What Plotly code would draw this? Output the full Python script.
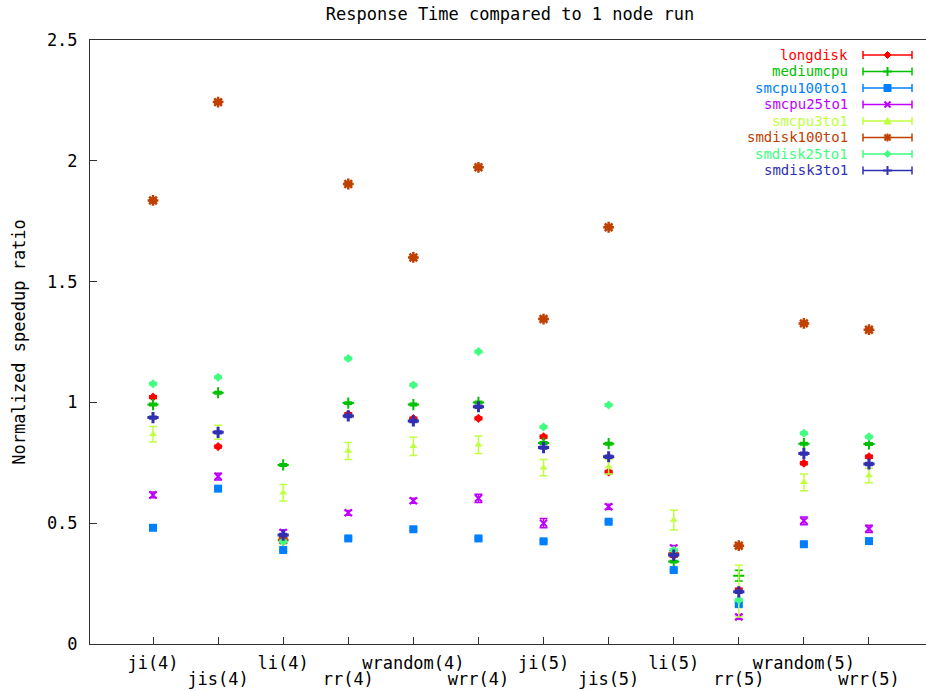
import plotly.graph_objects as go

# ---- data -------------------------------------------------------------
categories = ["ji(4)", "jis(4)", "li(4)", "rr(4)", "wrandom(4)", "wrr(4)",
              "ji(5)", "jis(5)", "li(5)", "rr(5)", "wrandom(5)", "wrr(5)"]

longdisk = [1.022, 0.817, 0.437, 0.951, 0.933, 0.934, 0.858, 0.712, 0.365, 0.223, 0.748, 0.775]
longdisk_err = [0.006, 0.006, 0.006, 0.006, 0.006, 0.006, 0.006, 0.006, 0.006, 0.008, 0.006, 0.006]

mediumcpu = [0.991, 1.040, 0.741, 0.997, 0.991, 1.000, 0.832, 0.829, 0.341, 0.283, 0.829, 0.828]
mediumcpu_err = [0.005, 0.005, 0.005, 0.005, 0.005, 0.005, 0.005, 0.005, 0.005, 0.022, 0.005, 0.005]

smcpu100to1 = [0.481, 0.643, 0.389, 0.437, 0.475, 0.437, 0.425, 0.506, 0.306, 0.165, 0.413, 0.426]
smcpu100to1_err = [0.005, 0.005, 0.005, 0.005, 0.005, 0.005, 0.005, 0.005, 0.005, 0.008, 0.005, 0.005]

smcpu25to1 = [0.617, 0.693, 0.462, 0.543, 0.593, 0.603, 0.500, 0.568, 0.398, 0.112, 0.510, 0.477]
smcpu25to1_err = [0.012, 0.014, 0.010, 0.010, 0.010, 0.017, 0.019, 0.010, 0.010, 0.010, 0.016, 0.015]

smcpu3to1 = [0.868, 0.876, 0.626, 0.799, 0.818, 0.825, 0.730, 0.734, 0.513, 0.219, 0.669, 0.697]
smcpu3to1_err = [0.032, 0.029, 0.034, 0.035, 0.038, 0.036, 0.034, 0.030, 0.041, 0.107, 0.035, 0.030]

smdisk100to1 = [1.836, 2.243, 0.430, 1.904, 1.600, 1.973, 1.345, 1.725, 0.375, 0.407, 1.327, 1.301]
smdisk100to1_err = [0.005] * 12

smdisk25to1 = [1.077, 1.104, 0.424, 1.182, 1.072, 1.210, 0.898, 0.989, 0.389, 0.182, 0.872, 0.858]
smdisk25to1_err = [0.005] * 12

smdisk3to1 = [0.937, 0.876, 0.451, 0.944, 0.923, 0.982, 0.813, 0.775, 0.368, 0.216, 0.788, 0.745]
smdisk3to1_err = [0.006] * 12

y_ticks = [0, 0.5, 1, 1.5, 2, 2.5]
y_tick_labels = ["0", "0.5", "1", "1.5", "2", "2.5"]

# ---- styling ------------------------------------------------------------
FONT = "DejaVu Sans Mono"
FS = 17
KEY_FS = 14
W, H = 926, 691
ML, MR, MT, MB = 90, 0, 40, 47
PW, PH = W - ML - MR, H - MT - MB

series = [
    ("longdisk", longdisk, longdisk_err, "#ff0000", dict(symbol="diamond", size=7)),
    ("mediumcpu", mediumcpu, mediumcpu_err, "#00c000",
     dict(symbol="cross-thin-open", size=8, line=dict(width=2))),
    ("smcpu100to1", smcpu100to1, smcpu100to1_err, "#0080ff", dict(symbol="square", size=8)),
    ("smcpu25to1", smcpu25to1, smcpu25to1_err, "#c000ff",
     dict(symbol="x-thin-open", size=7, line=dict(width=2))),
    ("smcpu3to1", smcpu3to1, smcpu3to1_err, "#c0ff40", dict(symbol="triangle-up", size=7)),
    ("smdisk100to1", smdisk100to1, smdisk100to1_err, "#c04000",
     dict(symbol="asterisk-open", size=9, line=dict(width=2.5))),
    ("smdisk25to1", smdisk25to1, smdisk25to1_err, "#40ff80", dict(symbol="diamond", size=7)),
    ("smdisk3to1", smdisk3to1, smdisk3to1_err, "#3030b0",
     dict(symbol="cross-thin-open", size=8, line=dict(width=3))),
]

xs = list(range(len(categories)))

fig = go.Figure()
for name, vals, errs, color, marker in series:
    mk = dict(marker)
    mk["color"] = color
    if "line" in mk:
        mk["line"] = dict(mk["line"], color=color)
    fig.add_trace(go.Scatter(
        x=xs, y=vals, mode="markers", name=name, marker=mk,
        error_y=dict(type="data", array=errs, visible=True, color=color,
                     thickness=1.5, width=4),
        showlegend=False, cliponaxis=False,
    ))

# visible x window (one category step of padding on the left)
x_left, x_right = -0.968, 11.876

even_idx = [i for i in xs if i % 2 == 0]
odd_idx = [i for i in xs if i % 2 == 1]

axis_line = dict(showline=True, linecolor="#303030", linewidth=1)
fig.update_layout(
    width=W, height=H,
    margin=dict(l=ML, r=MR, t=MT, b=MB, autoexpand=False),
    paper_bgcolor="white", plot_bgcolor="white",
    font=dict(family=FONT, size=FS, color="black"),
    title=dict(text="Response Time compared to 1 node run",
               x=(510 - ML) / PW, xref="paper", xanchor="center",
               y=1 - 14 / H, yref="container", yanchor="middle",
               font=dict(family=FONT, size=FS, color="black")),
    xaxis=dict(range=[x_left, x_right], tickvals=even_idx,
               ticktext=[categories[i] for i in even_idx],
               ticks="inside", ticklen=7, tickcolor="#303030",
               showgrid=False, zeroline=False, mirror=True,
               ticklabelstandoff=4, **axis_line),
    xaxis2=dict(range=[x_left, x_right], overlaying="x", side="bottom",
                anchor="y", tickvals=odd_idx,
                ticktext=[categories[i] for i in odd_idx],
                ticks="inside", ticklen=7, tickcolor="#303030",
                showgrid=False, zeroline=False, showline=False,
                ticklabelstandoff=23),
    yaxis=dict(range=[0, 2.5], tickvals=y_ticks, ticktext=y_tick_labels,
               ticks="inside", ticklen=7, tickcolor="#303030",
               showgrid=False, zeroline=False, ticklabelstandoff=8,
               title=dict(text="Normalized speedup ratio", standoff=16,
                          font=dict(family=FONT, size=FS)),
               **axis_line),
)

# keep the second category axis alive with an invisible copy of one series
fig.add_trace(go.Scatter(x=xs, y=smcpu3to1, xaxis="x2", mode="markers",
                         marker=dict(opacity=0), showlegend=False,
                         hoverinfo="skip"))

# ---- key (text on the left, sample bar with caps on the right) ----------
def px_to_paper_x(px):
    return (px - ML) / PW


def px_to_paper_y(py):
    return (H - MB - py) / PH


def marker_shapes(sym, color, ax, ay):
    base = dict(xref="paper", yref="paper", xsizemode="pixel", ysizemode="pixel",
                xanchor=ax, yanchor=ay)
    out = []
    if sym == "diamond":
        out.append(dict(base, type="path", path="M -3.5,0 L 0,3.5 L 3.5,0 L 0,-3.5 Z",
                        fillcolor=color, line=dict(color=color, width=1)))
    elif sym == "square":
        out.append(dict(base, type="rect", x0=-3.5, x1=3.5, y0=-3.5, y1=3.5,
                        fillcolor=color, line=dict(color=color, width=1)))
    elif sym == "triangle-up":
        out.append(dict(base, type="path", path="M -3.5,-3 L 3.5,-3 L 0,3.5 Z",
                        fillcolor=color, line=dict(color=color, width=1)))
    elif sym == "cross-thin-open":
        for x0, y0, x1, y1 in [(-4.5, 0, 4.5, 0), (0, -4.5, 0, 4.5)]:
            out.append(dict(base, type="line", x0=x0, y0=y0, x1=x1, y1=y1,
                            line=dict(color=color, width=2)))
    elif sym == "x-thin-open":
        for x0, y0, x1, y1 in [(-3, -3, 3, 3), (-3, 3, 3, -3)]:
            out.append(dict(base, type="line", x0=x0, y0=y0, x1=x1, y1=y1,
                            line=dict(color=color, width=2)))
    elif sym == "asterisk-open":
        for x0, y0, x1, y1 in [(-4, 0, 4, 0), (0, -4, 0, 4), (-3, -3, 3, 3), (-3, 3, 3, -3)]:
            out.append(dict(base, type="line", x0=x0, y0=y0, x1=x1, y1=y1,
                            line=dict(color=color, width=2)))
    return out


key_text_right = 849
key_x0, key_x1 = 863, 912
key_mid = (key_x0 + key_x1) / 2
row_top, row_step = 55, 16.5

shapes = []
annotations = []
for k, (name, _, _, color, marker) in enumerate(series):
    ry = row_top + row_step * k
    pyy = px_to_paper_y(ry)
    annotations.append(dict(text=name, x=px_to_paper_x(key_text_right), y=pyy,
                            xref="paper", yref="paper", xanchor="right",
                            yanchor="middle", showarrow=False, borderpad=0,
                            font=dict(family=FONT, size=KEY_FS, color=color)))
    base = dict(xref="paper", yref="paper", xsizemode="pixel", ysizemode="pixel",
                yanchor=pyy)
    shapes.append(dict(base, type="line", xanchor=px_to_paper_x(key_mid),
                       x0=key_x0 - key_mid, x1=key_x1 - key_mid, y0=0, y1=0,
                       line=dict(color=color, width=1.5)))
    for cx in (key_x0, key_x1):
        shapes.append(dict(base, type="line", xanchor=px_to_paper_x(cx),
                           x0=0, x1=0, y0=-4, y1=4,
                           line=dict(color=color, width=1.5)))
    shapes += marker_shapes(marker["symbol"], color, px_to_paper_x(key_mid), pyy)

fig.update_layout(shapes=shapes, annotations=annotations)

fig.write_html("out.html")
